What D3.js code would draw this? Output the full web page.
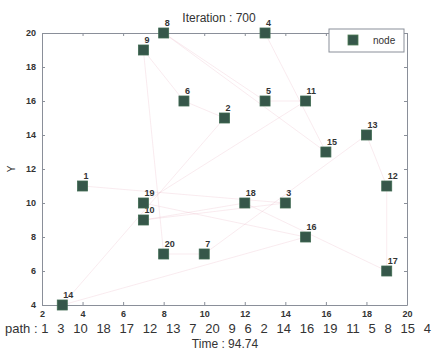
<!DOCTYPE html>
<html>
<head>
<meta charset="utf-8">
<script src="https://cdn.jsdelivr.net/npm/d3@7/dist/d3.min.js"></script>
<style>
  html, body { margin: 0; padding: 0; background: #fff; }
  svg { display: block; font-family: "Liberation Sans", Arial, Helvetica, sans-serif; }
</style>
</head>
<body>
<svg id="chart" width="435" height="352"></svg>
<script>
// Node ids and their coordinates
const nodeIds = [1, 2, 3, 4, 5, 6, 7, 8, 9, 10, 11, 12, 13, 14, 15, 16, 17, 18, 19, 20];
const nodeX   = [4, 11, 14, 13, 13, 9, 10, 8, 7, 7, 15, 19, 18, 3, 16, 15, 19, 12, 7, 8];
const nodeY   = [11, 15, 10, 20, 16, 16, 7, 20, 19, 9, 16, 11, 14, 4, 13, 8, 6, 10, 10, 7];

// Visiting order of the current best tour
const pathOrder = [1, 3, 10, 18, 17, 12, 13, 7, 20, 9, 6, 2, 14, 16, 19, 11, 5, 8, 15, 4];

const xTicks = [2, 4, 6, 8, 10, 12, 14, 16, 18, 20];
const yTicks = [4, 6, 8, 10, 12, 14, 16, 18, 20];

const iteration = 700;
const timeValue = "94.74";

const svg = d3.select("#chart");
const plotLeft = 42, plotRight = 407, plotTop = 33, plotBottom = 305;

const x = d3.scaleLinear().domain([2, 20]).range([plotLeft, plotRight]);
const y = d3.scaleLinear().domain([4, 20]).range([plotBottom, plotTop]);

const axisColor = "#8a8f99";
const textColor = "#333";

// Tour segments
const byId = new Map(nodeIds.map((id, i) => [id, { x: nodeX[i], y: nodeY[i] }]));
const segs = d3.pairs(pathOrder);
svg.append("g")
  .selectAll("line")
  .data(segs)
  .join("line")
  .attr("x1", d => x(byId.get(d[0]).x))
  .attr("y1", d => y(byId.get(d[0]).y))
  .attr("x2", d => x(byId.get(d[1]).x))
  .attr("y2", d => y(byId.get(d[1]).y))
  .attr("stroke", "#e3a3b4")
  .attr("stroke-opacity", 0.22)
  .attr("stroke-width", 1);

// Axes box with inward ticks on all sides
const tickLen = 3;
function styleAxis(g) {
  g.select(".domain").attr("stroke", axisColor).attr("stroke-width", 1);
  g.selectAll(".tick line").attr("stroke", axisColor);
  g.selectAll(".tick text")
    .attr("fill", textColor)
    .attr("font-size", 9)
    .attr("font-weight", "bold");
}
svg.append("g").attr("transform", `translate(0,${plotBottom})`)
  .call(d3.axisBottom(x).tickValues(xTicks).tickSize(-tickLen).tickPadding(6).tickSizeOuter(0))
  .call(styleAxis);
svg.append("g").attr("transform", `translate(0,${plotTop})`)
  .call(d3.axisTop(x).tickValues(xTicks).tickSize(-tickLen).tickFormat("").tickSizeOuter(0))
  .call(styleAxis);
svg.append("g").attr("transform", `translate(${plotLeft},0)`)
  .call(d3.axisLeft(y).tickValues(yTicks).tickSize(-tickLen).tickPadding(6).tickSizeOuter(0))
  .call(styleAxis);
svg.append("g").attr("transform", `translate(${plotRight},0)`)
  .call(d3.axisRight(y).tickValues(yTicks).tickSize(-tickLen).tickFormat("").tickSizeOuter(0))
  .call(styleAxis);

// Nodes
const sq = 10;
const nodes = svg.append("g")
  .selectAll("g")
  .data(nodeIds.map((id, i) => ({ id, x: nodeX[i], y: nodeY[i] })))
  .join("g")
  .attr("transform", d => `translate(${x(d.x)},${y(d.y)})`);
nodes.append("rect")
  .attr("x", -sq / 2).attr("y", -sq / 2)
  .attr("width", sq).attr("height", sq)
  .attr("fill", "#36574a")
  .attr("stroke", "#3f6a52")
  .attr("stroke-width", 0.8);
nodes.append("text")
  .attr("x", 1).attr("y", -7)
  .attr("font-size", 9)
  .attr("font-weight", "bold")
  .attr("fill", textColor)
  .text(d => d.id);

// Legend
const lg = svg.append("g").attr("transform", "translate(329,29)");
lg.append("rect").attr("width", 75).attr("height", 23)
  .attr("fill", "#fff").attr("stroke", axisColor).attr("stroke-width", 1);
lg.append("rect").attr("x", 19).attr("y", 6).attr("width", 10).attr("height", 10)
  .attr("fill", "#36574a").attr("stroke", "#4f7d55").attr("stroke-width", 0.8);
lg.append("text").attr("x", 44).attr("y", 15)
  .attr("font-size", 10).attr("fill", textColor).text("node");

// Title and captions
svg.append("text").attr("x", 219).attr("y", 22)
  .attr("text-anchor", "middle").attr("font-size", 12).attr("fill", textColor)
  .text(`Iteration : ${iteration}`);

svg.append("text")
  .attr("transform", `translate(15,${(plotTop + plotBottom) / 2}) rotate(-90)`)
  .attr("text-anchor", "middle").attr("font-size", 10).attr("fill", textColor)
  .text("Y");

// Path caption: a compact lead-in, then widened gaps between the node ids
const pathLabel = svg.append("text").attr("x", 5).attr("y", 333)
  .attr("font-size", 13).attr("fill", textColor);
pathLabel.append("tspan").text("path : " + pathOrder[0]);
const rest = pathLabel.append("tspan").text(" " + pathOrder.slice(1).join(" "));
const natural = pathLabel.node().getComputedTextLength();
const gaps = pathOrder.length - 1;
rest.attr("word-spacing", Math.max(0, (426 - natural) / gaps) + "px");

svg.append("text").attr("x", 225).attr("y", 348)
  .attr("text-anchor", "middle").attr("font-size", 12).attr("fill", textColor)
  .text(`Time : ${timeValue}`);
</script>
</body>
</html>
